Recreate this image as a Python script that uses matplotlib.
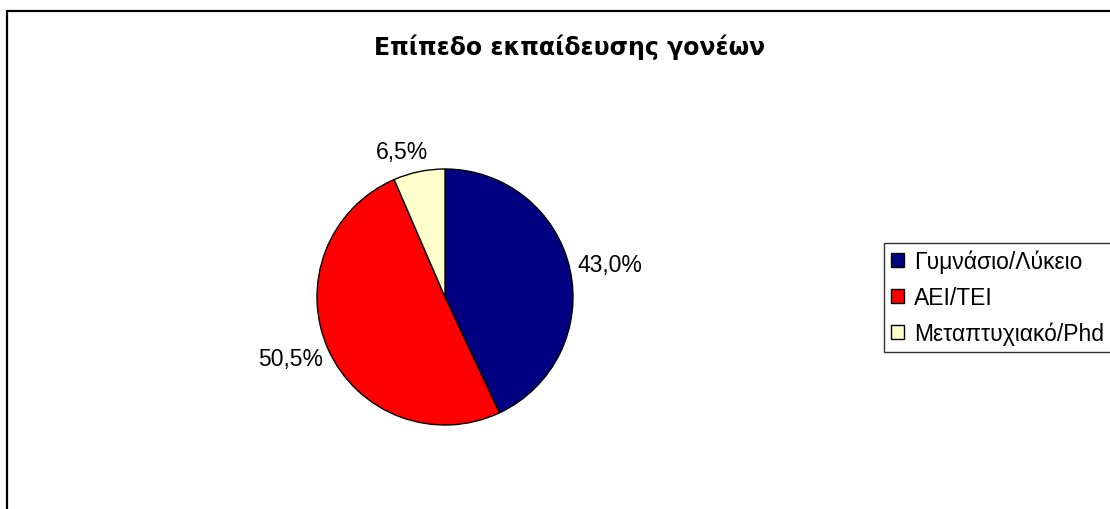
import numpy as np
import matplotlib
matplotlib.use("Agg")
import matplotlib.pyplot as plt
from matplotlib.patches import Rectangle

# Parents' education level, share of respondents (%)
categories = ["Γυμνάσιο/Λύκειο", "ΑΕΙ/ΤΕΙ", "Μεταπτυχιακό/Phd"]
shares = [43.0, 50.5, 6.5]
colors = ["#000080", "#FF0000", "#FFFFCC"]
title = "Επίπεδο εκπαίδευσης γονέων"

W, H = 1110, 510
fig = plt.figure(figsize=(W / 100, H / 100), dpi=100)
fig.patch.set_facecolor("white")

# outer chart frame (runs off the right and bottom edges)
fig.patches.append(Rectangle((7 / W, -0.1), 1.2, (H - 12) / H + 0.1,
                             transform=fig.transFigure, fill=False,
                             edgecolor="black", linewidth=1.6))

fig.text(570 / W, 1 - 47 / H, title, ha="center", va="center",
         fontsize=17, fontweight="bold", family="DejaVu Sans")

# pie of radius 128 px centred at (445, 298)
ax = fig.add_axes([317 / W, 84 / H, 256 / W, 256 / H])
wedges, _ = ax.pie(shares, colors=colors, startangle=90, counterclock=False,
                   radius=1.0,
                   wedgeprops=dict(edgecolor="black", linewidth=1.0))
ax.set_xlim(-1, 1)
ax.set_ylim(-1, 1)
ax.set_aspect("equal")
ax.axis("off")

# percentage labels just outside each wedge
labels = []
for w, v in zip(wedges, shares):
    mid = np.deg2rad((w.theta1 + w.theta2) / 2)
    t = ax.text(1.07 * np.cos(mid), 1.07 * np.sin(mid),
                f"{v:.1f}%".replace(".", ","), ha="center", va="center",
                fontsize=16.5, family="Liberation Sans", clip_on=False)
    labels.append((t, mid))

fig.canvas.draw()
r = fig.canvas.get_renderer()
px = 128.0  # pixels per data unit
for t, mid in labels:
    bb = t.get_window_extent(r)
    x, y = t.get_position()
    # push the box outwards; near-vertical labels lean towards their side
    sx = np.sign(np.cos(mid)) * max(abs(np.cos(mid)), 0.6)
    t.set_position((x + bb.width / 2 / px * sx,
                    y + bb.height / 2 / px * np.sin(mid)))

leg = fig.legend(wedges, categories, loc="upper left",
                 bbox_to_anchor=(884 / W, 1 - 244 / H),
                 prop={"family": "Liberation Sans", "size": 16.5},
                 frameon=True, fancybox=False, edgecolor="black",
                 handlelength=0.56, handleheight=0.56, handletextpad=0.45,
                 labelspacing=0.55, borderpad=0.3, borderaxespad=0)
leg.get_frame().set_linewidth(1.0)

fig.savefig("out.png", dpi=100)
